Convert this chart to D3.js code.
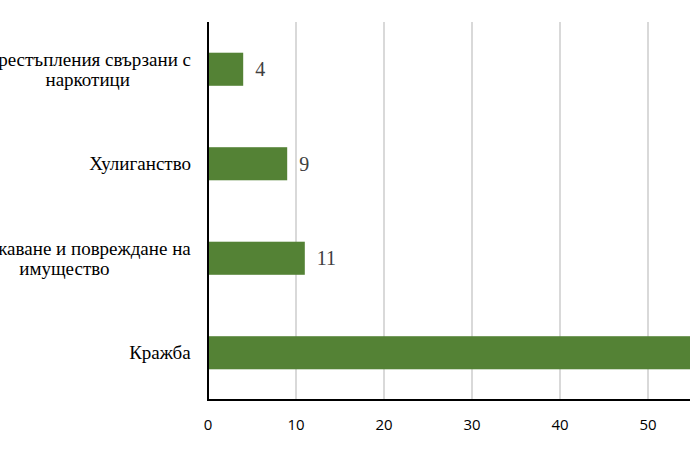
<!DOCTYPE html>
<html>
<head>
<meta charset="utf-8">
<script src="https://cdn.jsdelivr.net/npm/d3@7"></script>
<style>
  body { margin: 0; background: #fff; overflow: hidden; }
</style>
</head>
<body>
<div id="chart"></div>
<script>
const categories = [
  ["Престъпления свързани с", "наркотици"],
  ["Хулиганство"],
  ["Унищожаване и повреждане на", "имущество"],
  ["Кражба"]
];
const values = [4, 9, 11, 70];
const ticks = [0, 10, 20, 30, 40, 50, 60, 70];

const width = 690,
  height = 461;
const plotLeft = 208,
  plotTop = 22,
  plotBottom = 400;
const serif = "'Times New Roman', 'Liberation Serif', 'DejaVu Serif', serif";

const svg = d3
  .select("#chart")
  .append("svg")
  .attr("width", width)
  .attr("height", height);

const x = d3.scaleLinear().domain([0, 70]).range([plotLeft, plotLeft + 70 * 8.8]);
const y = d3
  .scaleBand()
  .domain(d3.range(categories.length))
  .range([plotTop, plotBottom])
  .paddingInner(0.65)
  .paddingOuter(0.325);

// grid
svg
  .selectAll(".grid")
  .data(ticks.filter((t) => t > 0))
  .enter()
  .append("line")
  .attr("x1", (d) => x(d))
  .attr("x2", (d) => x(d))
  .attr("y1", plotTop)
  .attr("y2", plotBottom)
  .attr("stroke", "#d9d9d9")
  .attr("stroke-width", 2);

// bars
svg
  .selectAll(".bar")
  .data(values)
  .enter()
  .append("rect")
  .attr("x", x(0))
  .attr("y", (d, i) => y(i))
  .attr("width", (d) => x(d) - x(0))
  .attr("height", y.bandwidth())
  .attr("fill", "#548235");

// value labels
svg
  .selectAll(".val")
  .data(values)
  .enter()
  .append("text")
  .attr("x", (d) => x(d) + 12)
  .attr("y", (d, i) => y(i) + y.bandwidth() / 2)
  .attr("dy", "0.35em")
  .style("font-family", serif)
  .attr("font-size", 20)
  .attr("fill", "#404040")
  .text((d) => d);

// category labels
categories.forEach(function (lines, i) {
  const cy = y(i) + y.bandwidth() / 2;
  const t = svg
    .append("text")
    .style("font-family", serif)
    .attr("font-size", 19)
    .attr("fill", "#000")
    .attr("text-anchor", "middle");
  lines.forEach(function (line, j) {
    t.append("tspan")
      .attr("x", 0)
      .attr("y", cy + (j - (lines.length - 1) / 2) * 20)
      .attr("dy", "0.35em")
      .text(line);
  });
  // right-align the block, center lines inside it
  const w = t.node().getBBox().width;
  t.selectAll("tspan").attr("x", 191 - w / 2);
});

// axis lines
svg
  .append("line")
  .attr("x1", x(0))
  .attr("x2", x(0))
  .attr("y1", plotTop)
  .attr("y2", plotBottom + 1)
  .attr("stroke", "#000")
  .attr("stroke-width", 2);
svg
  .append("line")
  .attr("x1", x(0))
  .attr("x2", width)
  .attr("y1", plotBottom)
  .attr("y2", plotBottom)
  .attr("stroke", "#000")
  .attr("stroke-width", 2);

// tick labels
svg
  .selectAll(".tick")
  .data(ticks)
  .enter()
  .append("text")
  .attr("x", (d) => x(d))
  .attr("y", 425)
  .attr("dy", "0.35em")
  .attr("text-anchor", "middle")
  .attr("font-family", "Open Sans, sans-serif")
  .attr("font-size", 15)
  .attr("fill", "#000")
  .text((d) => d);
</script>
</body>
</html>
